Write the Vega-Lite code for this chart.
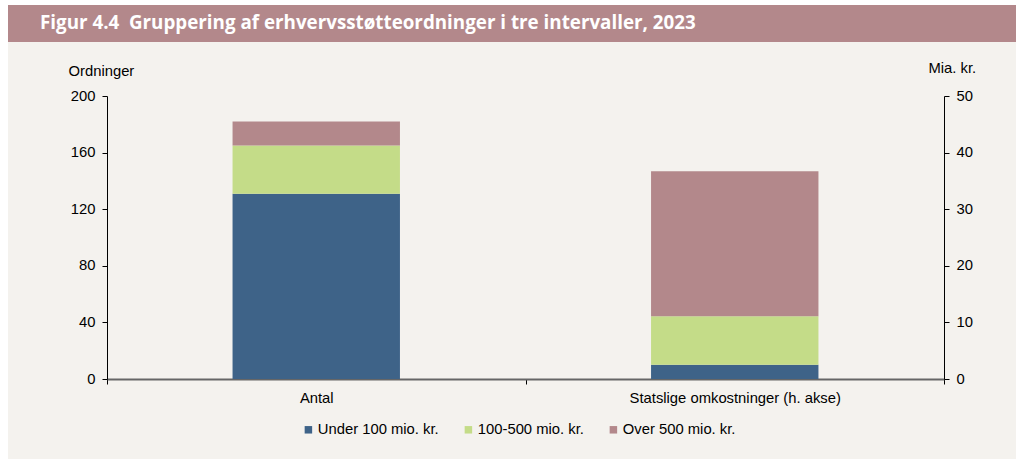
{
  "$schema": "https://vega.github.io/schema/vega-lite/v6.json",
  "background": "#f4f2ee",
  "padding": 0,
  "config": {
    "view": {"stroke": null},
    "font": "Liberation Sans",
    "axis": {"grid": false, "labelFontSize": 14.8, "labelColor": "#000000", "tickColor": "#000000", "tickSize": 5, "domainColor": "#000000"}
  },
  "datasets": {
    "blank": [{}],
    "antal": [
      {"kategori": "Antal", "gruppe": "Under 100 mio. kr.", "rang": 1, "vaerdi": 131},
      {"kategori": "Antal", "gruppe": "100-500 mio. kr.", "rang": 2, "vaerdi": 34},
      {"kategori": "Antal", "gruppe": "Over 500 mio. kr.", "rang": 3, "vaerdi": 17}
    ],
    "omk": [
      {"kategori": "Statslige omkostninger (h. akse)", "gruppe": "Under 100 mio. kr.", "rang": 1, "vaerdi": 2.5},
      {"kategori": "Statslige omkostninger (h. akse)", "gruppe": "100-500 mio. kr.", "rang": 2, "vaerdi": 8.6},
      {"kategori": "Statslige omkostninger (h. akse)", "gruppe": "Over 500 mio. kr.", "rang": 3, "vaerdi": 25.6}
    ]
  },
  "spacing": 0,
  "resolve": {"scale": {"color": "independent"}, "legend": {"color": "independent"}},
  "hconcat": [
    {
      "data": {"name": "blank"},
      "mark": {"type": "rect", "opacity": 0},
      "encoding": {},
      "width": 8,
      "height": 459,
      "view": {"fill": "#ffffff", "stroke": null}
    },
    {
      "spacing": 0,
      "resolve": {"scale": {"color": "independent"}, "legend": {"color": "independent"}},
      "vconcat": [
        {
          "data": {"name": "blank"},
          "mark": {"type": "rect", "opacity": 0},
          "encoding": {},
          "width": 1008,
          "height": 5,
          "view": {"fill": "#ffffff", "stroke": null}
        },
        {
          "spacing": 18,
          "resolve": {"scale": {"color": "independent"}, "legend": {"color": "independent"}},
          "vconcat": [
            {
              "data": {"name": "blank"},
              "mark": {"type": "rect", "opacity": 0},
              "encoding": {},
              "width": 1008,
              "height": 37,
              "view": {"fill": "#b3888b", "stroke": null},
              "title": {
                "text": "Figur 4.4\u00a0 Gruppering af erhvervsstøtteordninger i tre intervaller, 2023",
                "anchor": "start",
                "frame": "group",
                "orient": "top",
                "offset": -28,
                "dx": 32,
                "font": "Open Sans",
                "fontSize": 18.8,
                "fontWeight": "bold",
                "color": "#ffffff"
              }
            },
            {
              "spacing": 0,
              "resolve": {"scale": {"color": "independent"}, "legend": {"color": "independent"}},
              "hconcat": [
                {
                  "data": {"name": "blank"},
                  "mark": {"type": "rect", "opacity": 0},
                  "encoding": {},
                  "width": 60,
                  "height": 283,
                  "view": {"stroke": null}
                },
                {
                  "width": 837,
                  "height": 283,
                  "layer": [
                    {
                      "data": {"name": "antal"},
                      "mark": {"type": "bar", "width": {"band": 0.4}},
                      "encoding": {
                        "x": {
                          "field": "kategori", "type": "nominal",
                          "scale": {"domain": ["Antal", "Statslige omkostninger (h. akse)"], "paddingInner": 0, "paddingOuter": 0},
                          "axis": {"title": null, "labelAngle": 0, "labelPadding": 6, "labelLimit": 400, "tickBand": "extent", "domainColor": "#666666", "domainWidth": 2}
                        },
                        "y": {
                          "field": "vaerdi", "type": "quantitative", "stack": "zero",
                          "scale": {"domain": [0, 200]},
                          "axis": {"orient": "left", "values": [0, 40, 80, 120, 160, 200], "labelPadding": 7, "title": "Ordninger", "titleAngle": 0, "titleAlign": "left", "titleBaseline": "middle", "titleX": -39, "titleY": -25, "titleFontSize": 14.8, "titleFontWeight": "normal", "titleColor": "#000000"}
                        },
                        "order": {"field": "rang", "type": "quantitative", "sort": "ascending"},
                        "color": {
                          "field": "gruppe", "type": "nominal",
                          "sort": ["Under 100 mio. kr.", "100-500 mio. kr.", "Over 500 mio. kr."],
                          "scale": {"domain": ["Under 100 mio. kr.", "100-500 mio. kr.", "Over 500 mio. kr."], "range": ["#3e6388", "#c4dc88", "#b3888b"]},
                          "legend": {"orient": "none", "legendX": 194, "legendY": 326, "direction": "horizontal", "title": null, "symbolType": "square", "symbolSize": 56, "symbolStrokeWidth": 0, "labelFontSize": 14.8, "labelColor": "#000000", "columnPadding": 22, "labelOffset": 2}
                        }
                      }
                    },
                    {
                      "data": {"name": "omk"},
                      "mark": {"type": "bar", "width": {"band": 0.4}},
                      "encoding": {
                        "x": {"field": "kategori", "type": "nominal"},
                        "y": {
                          "field": "vaerdi", "type": "quantitative", "stack": "zero",
                          "scale": {"domain": [0, 50]},
                          "axis": {"orient": "right", "values": [0, 10, 20, 30, 40, 50], "labelPadding": 7, "title": "Mia. kr.", "titleAngle": 0, "titleAlign": "left", "titleBaseline": "middle", "titleX": -16, "titleY": -28, "titleFontSize": 14.8, "titleFontWeight": "normal", "titleColor": "#000000"}
                        },
                        "order": {"field": "rang", "type": "quantitative", "sort": "ascending"},
                        "color": {
                          "field": "gruppe", "type": "nominal",
                          "sort": ["Under 100 mio. kr.", "100-500 mio. kr.", "Over 500 mio. kr."]
                        }
                      }
                    }
                  ],
                  "resolve": {"scale": {"y": "independent"}}
                }
              ]
            }
          ]
        }
      ]
    }
  ]
}
